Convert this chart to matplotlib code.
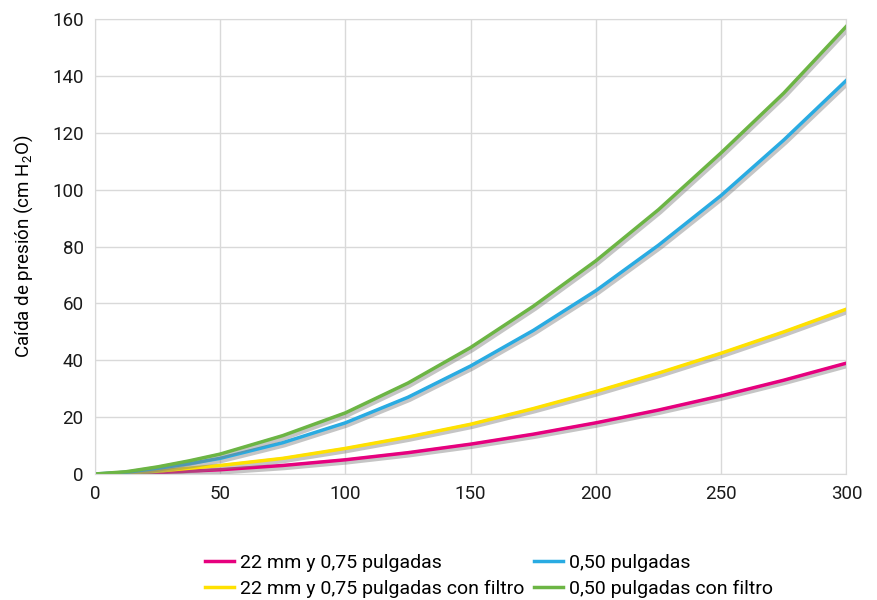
import matplotlib
matplotlib.use('Agg')
import matplotlib.pyplot as plt
import matplotlib.patheffects as pe
from matplotlib import font_manager

plt.rcParams['font.family'] = ['Roboto', 'DejaVu Sans']
plt.rcParams['mathtext.default'] = 'regular'

caudal = [0, 12.5, 25, 37.5, 50, 75, 100, 125, 150, 175, 200, 225, 250, 275, 300]
s22_075 = [0, 0.15, 0.5, 1, 1.5, 3, 5, 7.5, 10.5, 14, 18, 22.5, 27.5, 33, 39]
s050 = [0, 0.6, 2, 3.6, 5.5, 11, 18, 27, 38, 50.5, 64.5, 80.5, 98, 117.5, 138.5]
s22_075_filtro = [0, 0.3, 1, 2, 3, 5.5, 9, 13, 17.5, 23, 29, 35.5, 42.5, 50, 58]
s050_filtro = [0, 0.8, 2.5, 4.6, 7, 13.5, 21.5, 32, 44.5, 59, 75, 93, 113, 134, 157.5]

series = [
    ("22 mm y 0,75 pulgadas", s22_075, "#E6007E"),
    ("22 mm y 0,75 pulgadas con filtro", s22_075_filtro, "#FFE100"),
    ("0,50 pulgadas", s050, "#29ABE2"),
    ("0,50 pulgadas con filtro", s050_filtro, "#6CB544"),
]

# fuente estrecha para la leyenda si existe
nombres = {f.name for f in font_manager.fontManager.ttflist}
fam_leyenda = 'Liberation Sans Narrow' if 'Liberation Sans Narrow' in nombres else 'Roboto'

fig = plt.figure(figsize=(8.78, 6), dpi=100)
ax = fig.add_axes([0.108, 0.21, 0.856, 0.758])

sombra = [pe.SimpleLineShadow(offset=(1.0, -1.2), shadow_color="#808080", alpha=0.45, linewidth=4.5),
          pe.Normal()]
lines = {}
for label, vals, color in series:
    ln, = ax.plot(caudal, vals, color=color, linewidth=2.5, label=label,
                  path_effects=sombra, solid_joinstyle="round")
    lines[label] = ln

ax.set_xlim(0, 300)
ax.set_ylim(0, 160)
ax.set_xticks(range(0, 301, 50))
ax.set_yticks(range(0, 161, 20))
ax.grid(True, color="#d9d9d9", linewidth=1)
ax.set_axisbelow(True)
for sp in ax.spines.values():
    sp.set_color("#d9d9d9")
ax.tick_params(length=0, labelsize=13.5, pad=8, colors="#1a1a1a")
ax.set_ylabel("Caída de presión (cm H$_2$O)", fontsize=13.5, labelpad=12)

order = ["22 mm y 0,75 pulgadas", "22 mm y 0,75 pulgadas con filtro",
         "0,50 pulgadas", "0,50 pulgadas con filtro"]
leg = fig.legend([lines[k] for k in order], order, ncol=2, loc="center",
                 bbox_to_anchor=(0.557, 0.04), frameon=False,
                 prop={'family': [fam_leyenda, 'DejaVu Sans'], 'size': 14},
                 handlelength=1.5, handletextpad=0.3, columnspacing=0.5,
                 labelspacing=0.4)
for h in leg.legend_handles:
    h.set_path_effects([])

fig.savefig("out.png", dpi=100)
